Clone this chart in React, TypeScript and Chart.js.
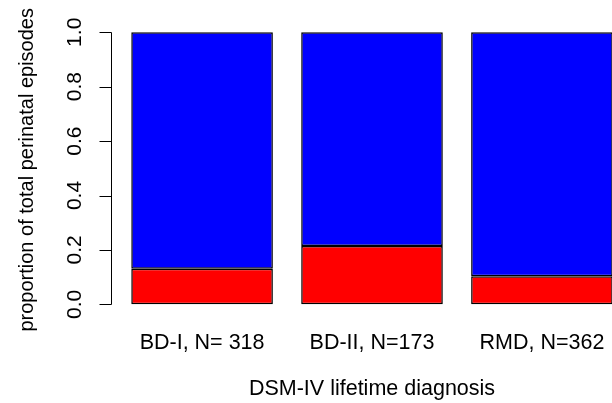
import React, { useEffect, useRef } from "react";
import { Chart, registerables } from "chart.js";

Chart.register(...registerables);

const categories = ["BD-I, N= 318", "BD-II, N=173", "RMD, N=362"];
const redShare = [0.131, 0.214, 0.103];
const blueShare = [0.869, 0.786, 0.897];
const yTickValues = [0, 0.2, 0.4, 0.6, 0.8, 1.0];
const yTickLabels = ["0.0", "0.2", "0.4", "0.6", "0.8", "1.0"];
const xTitle = "DSM-IV lifetime diagnosis";
const yTitle = "proportion of total perinatal episodes";

// R barplot geometry: width 1, space 0.2
const SPACE = 0.2;
const centers = categories.map((_, i) => SPACE + i * (1 + SPACE) + 0.5);
const xLo = SPACE;
const xHi = SPACE + categories.length * (1 + SPACE) - SPACE;
const xExt = (xHi - xLo) * 0.04;

const FONT = '"Liberation Sans", Arial, Helvetica, sans-serif';

const rAxes = {
  id: "rAxes",
  afterDraw(chart: any) {
    const ctx = chart.ctx;
    const xs = chart.scales.x;
    const ys = chart.scales.y;
    ctx.save();
    ctx.strokeStyle = "#000";
    ctx.fillStyle = "#000";
    ctx.lineWidth = 1;
    const ax = chart.chartArea.left - 0.5;
    const y0 = Math.round(ys.getPixelForValue(yTickValues[0])) + 0.5;
    const y1 = Math.round(ys.getPixelForValue(yTickValues[yTickValues.length - 1])) + 0.5;
    ctx.beginPath();
    ctx.moveTo(ax, y0);
    ctx.lineTo(ax, y1);
    yTickValues.forEach((v) => {
      const py = Math.round(ys.getPixelForValue(v)) + 0.5;
      ctx.moveTo(ax, py);
      ctx.lineTo(ax - 12, py);
    });
    ctx.stroke();

    ctx.textAlign = "center";
    ctx.textBaseline = "alphabetic";
    ctx.font = `21px ${FONT}`;
    yTickValues.forEach((v, i) => {
      const py = ys.getPixelForValue(v);
      ctx.save();
      ctx.translate(81, py);
      ctx.rotate(-Math.PI / 2);
      ctx.fillText(yTickLabels[i], 0, 0);
      ctx.restore();
    });

    ctx.font = `21.5px ${FONT}`;
    categories.forEach((c, i) => {
      ctx.fillText(c, xs.getPixelForValue(centers[i]), 349);
    });

    const midX = xs.getPixelForValue((xLo - xExt + xHi + xExt) / 2);
    ctx.fillText(xTitle, midX, 395);

    ctx.font = `20px ${FONT}`;
    const midY = ys.getPixelForValue(0.5) + 1.5;
    ctx.save();
    ctx.translate(33, midY);
    ctx.rotate(-Math.PI / 2);
    ctx.fillText(yTitle, 0, 0);
    ctx.restore();
    ctx.restore();
  },
};

export default function App() {
  const ref = useRef<HTMLCanvasElement>(null);
  useEffect(() => {
    if (!ref.current) return;
    const chart = new Chart(ref.current, {
      type: "bar",
      data: {
        datasets: [
          {
            label: "red",
            data: centers.map((x, i) => ({ x, y: redShare[i] })),
            backgroundColor: "#FF0000",
            borderColor: "#000000",
            borderWidth: 1.5,
            borderSkipped: false,
            categoryPercentage: 1,
            barPercentage: 1 / (1 + SPACE),
          },
          {
            label: "blue",
            data: centers.map((x, i) => ({ x, y: blueShare[i] })),
            backgroundColor: "#0000FF",
            borderColor: "#000000",
            borderWidth: 1.5,
            borderSkipped: false,
            categoryPercentage: 1,
            barPercentage: 1 / (1 + SPACE),
          },
        ],
      },
      options: {
        animation: false,
        responsive: false,
        devicePixelRatio: 1,
        layout: { padding: { left: 112, right: 8, top: 21.4, bottom: 87.8 } },
        plugins: { legend: { display: false }, tooltip: { enabled: false } },
        scales: {
          x: {
            type: "linear",
            display: false,
            offset: false,
            stacked: true,
            min: xLo - xExt,
            max: xHi + xExt,
            grid: { offset: false },
            afterBuildTicks: (scale: any) => {
              scale.ticks = centers.map((v) => ({ value: v }));
            },
          },
          y: {
            display: false,
            stacked: true,
            min: -0.04,
            max: 1.04,
          },
        },
      },
      plugins: [rAxes],
    } as any);
    return () => chart.destroy();
  }, []);
  return (
    <div
      style={{
        position: "fixed",
        left: 0,
        top: 0,
        width: 612,
        height: 403,
        overflow: "hidden",
        background: "#fff",
      }}
    >
      <canvas ref={ref} width={640} height={403} style={{ display: "block" }} />
    </div>
  );
}
